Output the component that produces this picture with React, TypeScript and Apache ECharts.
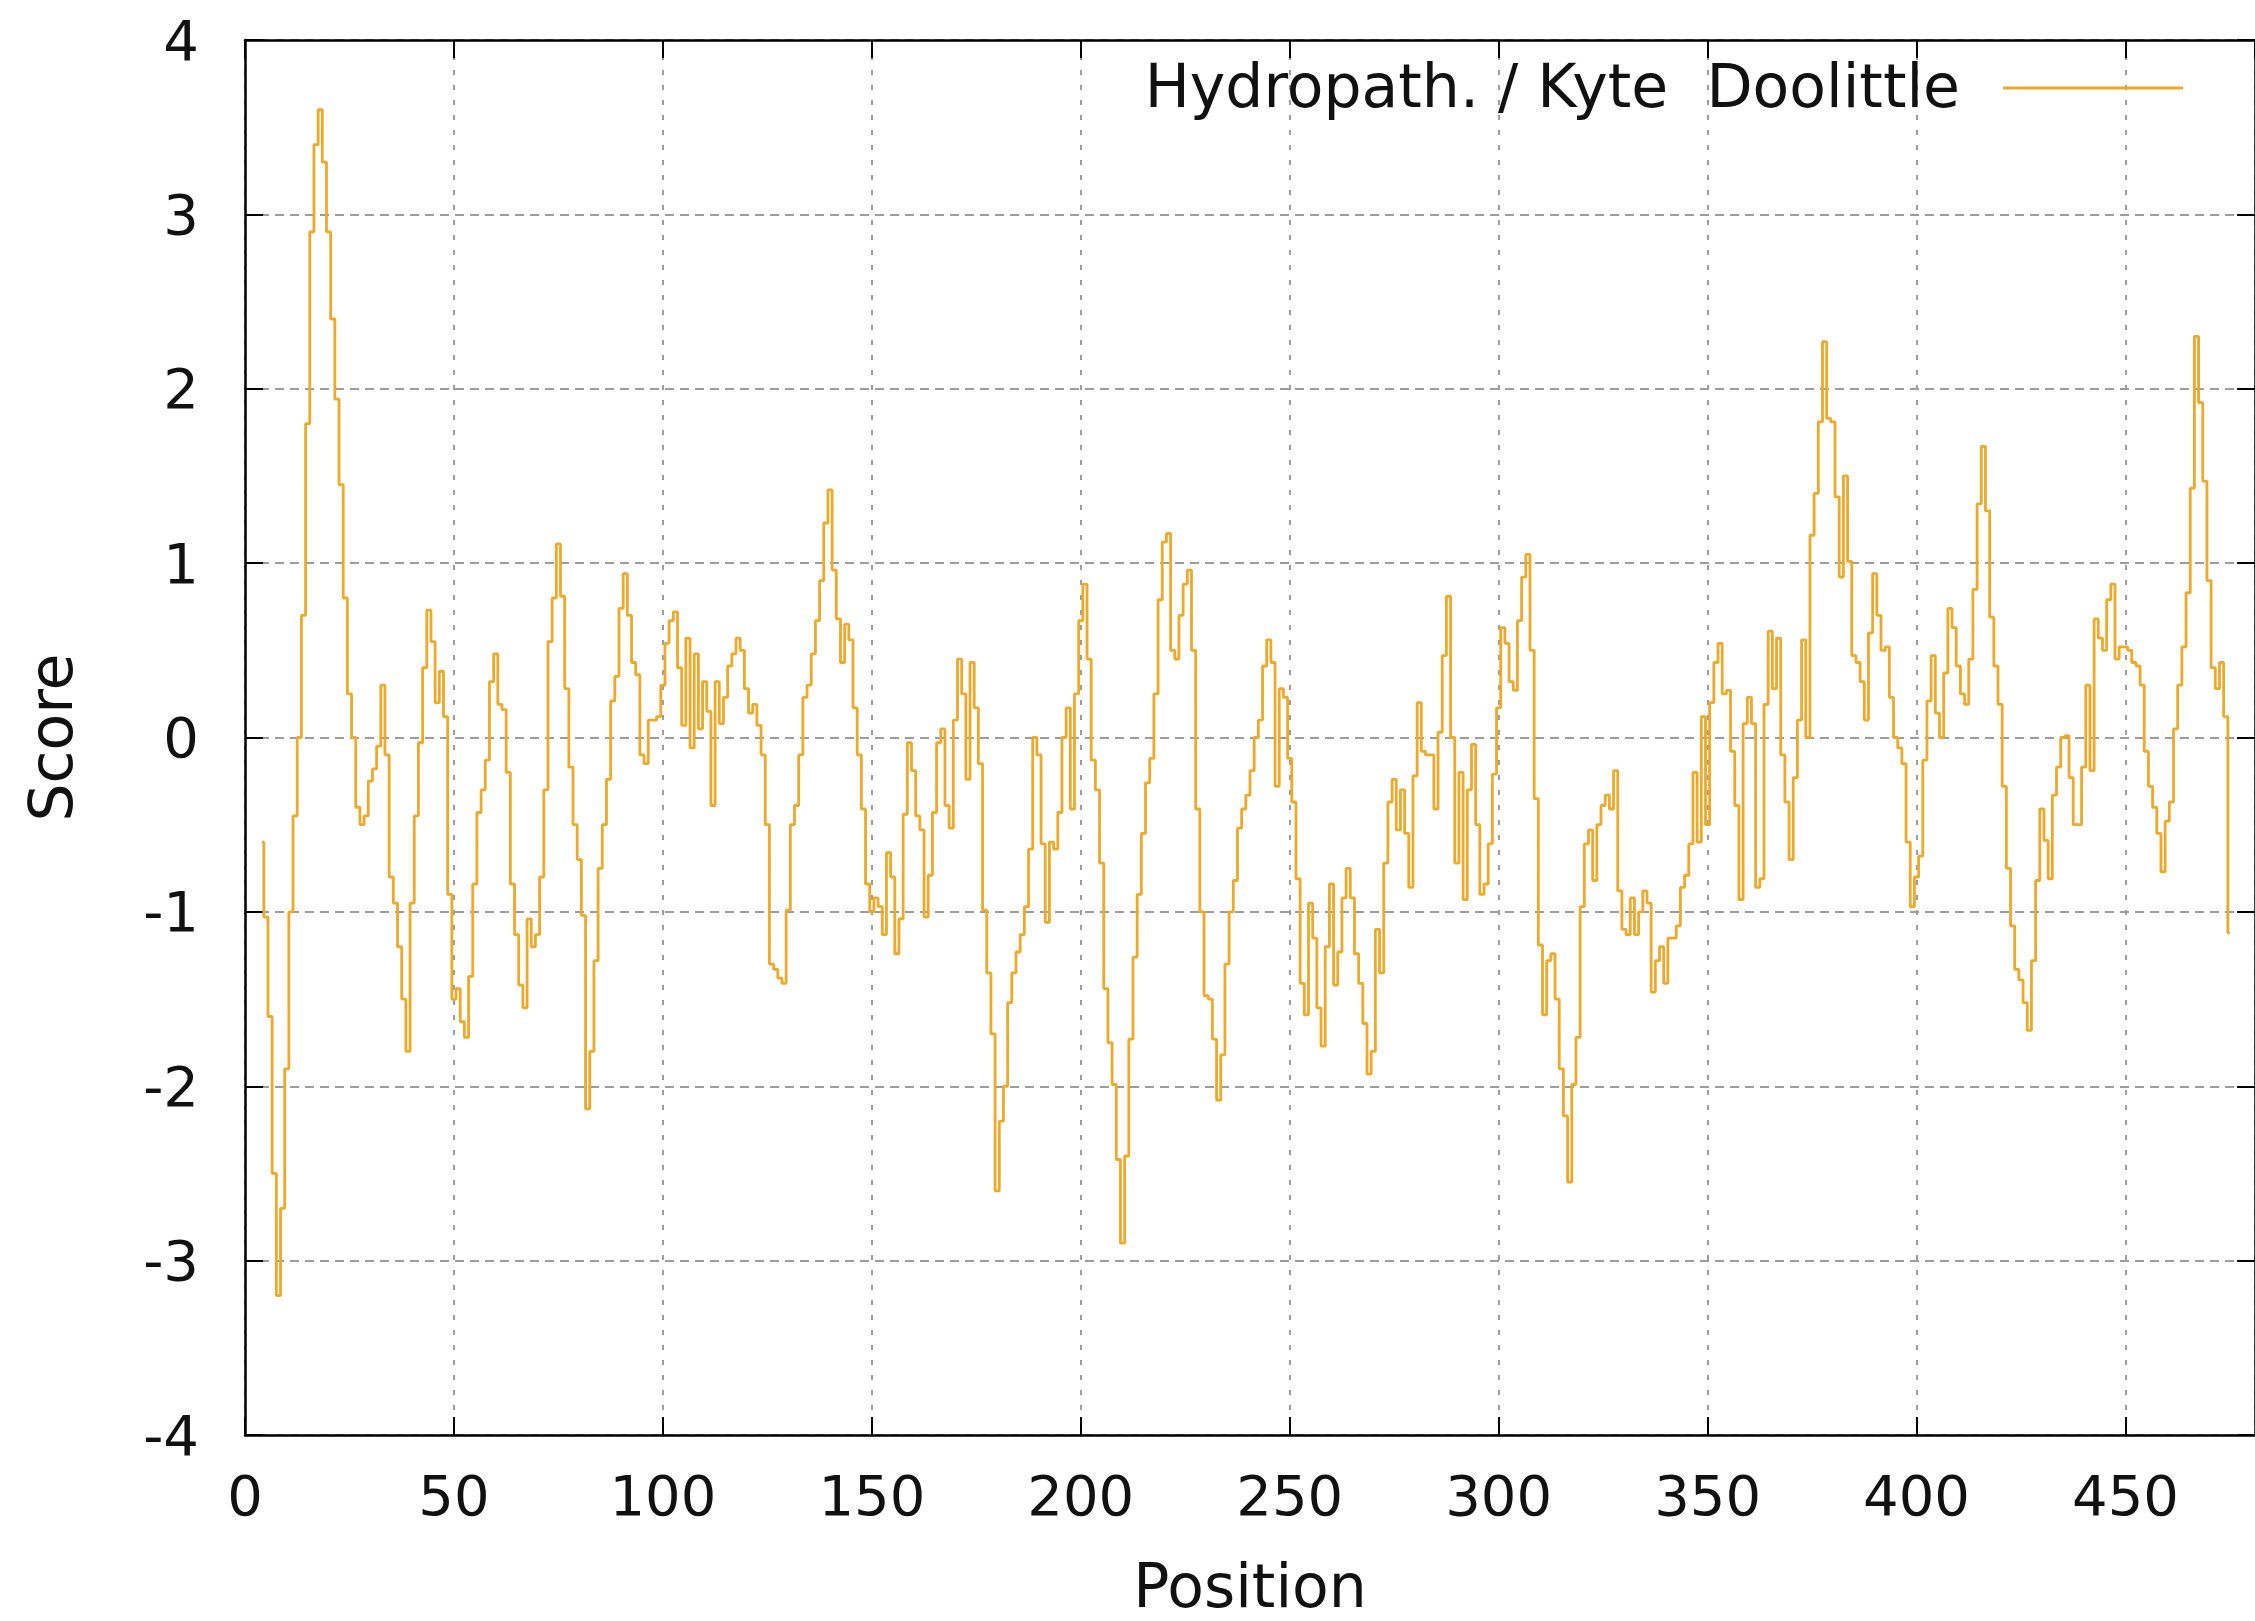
import React, { useEffect, useRef } from "react";
import * as echarts from "echarts";

// ---- data ----
const startPosition = 4;

const scores004to049 = [
  -0.6, -1.03, -1.6, -2.5, -3.2, -2.7, -1.9, -1.0, -0.45, 0.0,
  0.7, 1.8, 2.9, 3.4, 3.6, 3.3, 2.9, 2.4, 1.94, 1.45,
  0.8, 0.25, 0.0, -0.4, -0.5, -0.45, -0.25, -0.18, -0.05, 0.3,
  -0.1, -0.8, -0.95, -1.2, -1.5, -1.8, -0.95, -0.45, -0.03, 0.4,
  0.73, 0.55, 0.2, 0.38, 0.12, -0.9,
];
const scores050to099 = [
  -1.5, -1.44, -1.63, -1.72, -1.37, -0.84, -0.43, -0.3, -0.13, 0.32,
  0.48, 0.19, 0.16, -0.2, -0.84, -1.13, -1.42, -1.55, -1.04, -1.2,
  -1.13, -0.8, -0.3, 0.55, 0.8, 1.11, 0.81, 0.28, -0.17, -0.5,
  -0.7, -1.02, -2.13, -1.8, -1.28, -0.75, -0.5, -0.24, 0.21, 0.35,
  0.74, 0.94, 0.7, 0.43, 0.36, -0.1, -0.15, 0.1, 0.1, 0.12,
];
const scores100to149 = [
  0.3, 0.54, 0.67, 0.72, 0.4, 0.07, 0.57, -0.06, 0.48, 0.05,
  0.32, 0.15, -0.39, 0.32, 0.08, 0.23, 0.41, 0.48, 0.57, 0.5,
  0.28, 0.14, 0.19, 0.07, -0.1, -0.5, -1.3, -1.33, -1.38, -1.41,
  -0.99, -0.5, -0.39, -0.1, 0.23, 0.3, 0.48, 0.67, 0.9, 1.23,
  1.42, 0.96, 0.68, 0.43, 0.65, 0.56, 0.17, -0.1, -0.41, -0.84,
];
const scores150to199 = [
  -1.0, -0.92, -0.97, -1.13, -0.66, -0.8, -1.24, -1.04, -0.44, -0.03,
  -0.19, -0.45, -0.53, -1.03, -0.79, -0.43, -0.03, 0.05, -0.39, -0.52,
  0.1, 0.45, 0.25, -0.24, 0.43, 0.17, -0.15, -0.99, -1.35, -1.7,
  -2.6, -2.2, -2.0, -1.52, -1.35, -1.23, -1.13, -0.97, -0.64, 0.0,
  -0.1, -0.61, -1.06, -0.6, -0.64, -0.43, 0.0, 0.17, -0.41, 0.25,
];
const scores200to249 = [
  0.67, 0.88, 0.45, -0.13, -0.3, -0.72, -1.44, -1.75, -1.99, -2.42,
  -2.9, -2.4, -1.73, -1.26, -0.9, -0.55, -0.26, -0.12, 0.25, 0.79,
  1.12, 1.17, 0.5, 0.45, 0.7, 0.88, 0.96, 0.5, -0.41, -1.0,
  -1.48, -1.5, -1.73, -2.08, -1.82, -1.3, -1.0, -0.82, -0.52, -0.41,
  -0.33, -0.19, 0.0, 0.1, 0.41, 0.56, 0.43, -0.28, 0.28, 0.23,
];
const scores250to299 = [
  -0.12, -0.37, -0.81, -1.41, -1.59, -0.95, -1.15, -1.55, -1.77, -1.2,
  -0.84, -1.42, -1.23, -0.92, -0.75, -0.92, -1.24, -1.41, -1.64, -1.93,
  -1.8, -1.1, -1.35, -0.72, -0.37, -0.24, -0.53, -0.3, -0.55, -0.86,
  -0.22, 0.2, -0.08, -0.1, -0.1, -0.41, 0.03, 0.47, 0.81, 0.0,
  -0.72, -0.2, -0.93, -0.3, -0.04, -0.5, -0.9, -0.84, -0.61, -0.21,
];
const scores300to349 = [
  0.17, 0.63, 0.54, 0.32, 0.27, 0.67, 0.92, 1.05, 0.5, -0.35,
  -1.19, -1.59, -1.28, -1.24, -1.5, -1.9, -2.17, -2.55, -1.99, -1.72,
  -0.97, -0.61, -0.53, -0.82, -0.5, -0.39, -0.33, -0.41, -0.19, -0.88,
  -1.1, -1.13, -0.92, -1.13, -1.0, -0.88, -0.95, -1.46, -1.28, -1.2,
  -1.41, -1.15, -1.15, -1.08, -0.86, -0.79, -0.61, -0.2, -0.6, 0.12,
];
const scores350to399 = [
  -0.5, 0.2, 0.43, 0.54, 0.25, 0.27, -0.08, -0.39, -0.93, 0.08,
  0.23, 0.08, -0.86, -0.81, 0.19, 0.61, 0.28, 0.57, -0.1, -0.37,
  -0.7, -0.23, 0.1, 0.56, 0.0, 1.16, 1.4, 1.81, 2.27, 1.83,
  1.81, 1.38, 0.92, 1.5, 1.01, 0.47, 0.43, 0.32, 0.1, 0.6,
  0.94, 0.7, 0.5, 0.52, 0.23, 0.0, -0.06, -0.15, -0.6, -0.97,
];
const scores400to449 = [
  -0.8, -0.68, -0.13, 0.21, 0.47, 0.14, 0.0, 0.37, 0.74, 0.63,
  0.41, 0.25, 0.19, 0.45, 0.85, 1.34, 1.67, 1.3, 0.69, 0.41,
  0.19, -0.28, -0.75, -1.08, -1.33, -1.39, -1.52, -1.68, -1.28, -0.82,
  -0.41, -0.59, -0.81, -0.33, -0.17, 0.0, 0.01, -0.23, -0.5, -0.5,
  -0.17, 0.3, -0.19, 0.68, 0.57, 0.5, 0.79, 0.88, 0.45, 0.52,
];
const scores450to475 = [
  0.52, 0.5, 0.43, 0.41, 0.3, -0.08, -0.28, -0.4, -0.55, -0.77,
  -0.48, -0.37, 0.05, 0.3, 0.52, 0.83, 1.43, 2.3, 1.92, 1.47,
  0.9, 0.4, 0.28, 0.43, 0.12, -1.12,
];

const xRange = [0, 481];
const xTickStep = 50;
const yRange = [-4, 4];
const yTickStep = 1;

const seriesName = "Hydropath. / Kyte  Doolittle";
const xTitle = "Position";
const yTitle = "Score";

const LINE_COLOR = "#eca92a";
const FONT = "DejaVu Sans";
const TICK_FONT_SIZE = 56;
const TITLE_FONT_SIZE = 60;
const TEXT_COLOR = "#111111";

export default function App() {
  const ref = useRef<HTMLDivElement>(null);

  useEffect(() => {
    if (!ref.current) return;
    const chart = echarts.init(ref.current, null, { renderer: "svg" });

    const scores = [
      ...scores004to049,
      ...scores050to099,
      ...scores100to149,
      ...scores150to199,
      ...scores200to249,
      ...scores250to299,
      ...scores300to349,
      ...scores350to399,
      ...scores400to449,
      ...scores450to475,
    ];
    const data = scores.map((s, i) => [startPosition + i, s]);

    const axisLineStyle = { color: "#000000", width: 2.5 };
    const tickStyle = { color: "#000000", width: 2 };

    chart.setOption({
      animation: false,
      backgroundColor: "#ffffff",
      textStyle: { fontFamily: FONT },
      grid: { left: 245, top: 40, width: 2020, bottom: 180, containLabel: false },
      xAxis: [
        {
          type: "value",
          position: "bottom",
          min: xRange[0],
          max: xRange[1],
          interval: xTickStep,
          axisLine: { show: true, onZero: false, lineStyle: axisLineStyle },
          axisTick: { show: true, inside: true, length: 18, lineStyle: tickStyle },
          axisLabel: {
            show: true,
            margin: 32,
            fontSize: TICK_FONT_SIZE,
            lineHeight: TICK_FONT_SIZE,
            color: TEXT_COLOR,
            fontFamily: FONT,
            showMaxLabel: false,
          },
          splitLine: {
            show: true,
            lineStyle: { color: "#9c9c9c", width: 2, type: [5, 10] },
          },
          name: xTitle,
          nameLocation: "middle",
          nameGap: 121,
          nameTextStyle: {
            fontSize: TITLE_FONT_SIZE,
            lineHeight: TITLE_FONT_SIZE,
            color: TEXT_COLOR,
            fontFamily: FONT,
          },
        },
        {
          type: "value",
          position: "top",
          min: xRange[0],
          max: xRange[1],
          interval: xTickStep,
          axisLine: { show: true, onZero: false, lineStyle: axisLineStyle },
          axisTick: { show: true, inside: true, length: 18, lineStyle: tickStyle },
          axisLabel: { show: false },
          splitLine: { show: false },
        },
      ],
      yAxis: [
        {
          type: "value",
          position: "left",
          min: yRange[0],
          max: yRange[1],
          interval: yTickStep,
          axisLine: { show: true, onZero: false, lineStyle: axisLineStyle },
          axisTick: { show: true, inside: true, length: 18, lineStyle: tickStyle },
          axisLabel: {
            show: true,
            margin: 46,
            fontSize: TICK_FONT_SIZE,
            lineHeight: TICK_FONT_SIZE,
            color: TEXT_COLOR,
            fontFamily: FONT,
          },
          splitLine: {
            show: true,
            lineStyle: { color: "#9c9c9c", width: 2, type: [9, 6] },
          },
          name: yTitle,
          nameLocation: "middle",
          nameGap: 164,
          nameRotate: 90,
          nameTextStyle: {
            fontSize: TITLE_FONT_SIZE,
            lineHeight: TITLE_FONT_SIZE,
            color: TEXT_COLOR,
            fontFamily: FONT,
          },
        },
        {
          type: "value",
          position: "right",
          min: yRange[0],
          max: yRange[1],
          interval: yTickStep,
          axisLine: { show: true, onZero: false, lineStyle: axisLineStyle },
          axisTick: { show: true, inside: true, length: 18, lineStyle: tickStyle },
          axisLabel: { show: false },
          splitLine: { show: false },
        },
      ],
      series: [
        {
          name: seriesName,
          type: "line",
          xAxisIndex: 0,
          yAxisIndex: 0,
          data,
          step: "middle",
          symbol: "none",
          showSymbol: false,
          clip: true,
          z: 3,
          lineStyle: { color: LINE_COLOR, width: 2.8 },
        },
      ],
      graphic: [
        {
          type: "text",
          x: 1960,
          y: 86,
          z: 10,
          style: {
            text: seriesName,
            fontSize: TITLE_FONT_SIZE,
            fontFamily: FONT,
            fill: TEXT_COLOR,
            align: "right",
            verticalAlign: "middle",
          },
        },
        {
          type: "line",
          z: 10,
          shape: { x1: 2003, y1: 88, x2: 2183, y2: 88 },
          style: { stroke: LINE_COLOR, lineWidth: 3.2 },
        },
      ],
    });

    return () => chart.dispose();
  }, []);

  return (
    <div
      ref={ref}
      style={{
        position: "fixed",
        left: 0,
        top: 0,
        width: 2255,
        height: 1621,
        background: "#ffffff",
      }}
    />
  );
}
